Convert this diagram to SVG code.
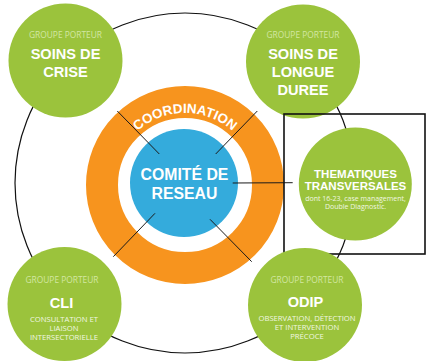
<svg xmlns="http://www.w3.org/2000/svg" width="426" height="361" viewBox="0 0 426 361">
<style>
.green{fill:#9bc33c;}
.gp{font-family:"Open Sans","Liberation Sans",sans-serif;font-size:8.4px;fill:#d3e7a3;text-anchor:middle;}
.title{font-family:"Liberation Sans",Arial,sans-serif;font-weight:bold;font-size:14.6px;fill:#ffffff;text-anchor:middle;}
.sub{font-family:"Open Sans","Liberation Sans",sans-serif;font-size:7.7px;fill:#f1f7e2;text-anchor:middle;}
.conn{stroke:#1a1a1a;stroke-width:1;fill:none;}
</style>
<defs>
<path id="coordArc" d="M 113,185 A 72 72 0 0 1 257,185"/>
</defs>
<rect width="426" height="361" fill="#ffffff"/>
<g id="outer-ring">
<circle cx="185" cy="183" r="170" fill="none" stroke="#111" stroke-width="1.2"/>
</g>
<g id="node-coordination">
<circle cx="185" cy="185" r="83" fill="none" stroke="#f7941e" stroke-width="32"/>
<text font-family="Liberation Sans, Arial, sans-serif" font-weight="bold" font-size="13.4" fill="#ffffff"><textPath href="#coordArc" startOffset="50%" text-anchor="middle">COORDINATION</textPath></text>
</g>
<g id="node-comite">
<circle cx="184" cy="183" r="54" fill="#34abdc"/>
<text class="title" x="184.5" y="180" style="font-size:15.8px">COMITÉ DE</text>
<text class="title" x="184.5" y="199.3" style="font-size:15.8px">RESEAU</text>
</g>
<g id="connectors">
<line class="conn" x1="117.3" y1="111" x2="159.3" y2="154"/>
<line class="conn" x1="257.3" y1="111" x2="215.7" y2="154"/>
<line class="conn" x1="232.7" y1="183" x2="292.7" y2="182.7"/>
<line class="conn" x1="155" y1="213.3" x2="113.3" y2="256.7"/>
<line class="conn" x1="210" y1="219.3" x2="251.7" y2="261.7"/>
</g>
<g id="node-soins-crise">
<circle class="green" cx="65.5" cy="60.5" r="57"/>
<text class="gp" x="65.5" y="37.5">GROUPE PORTEUR</text>
<text class="title" x="65.5" y="59">SOINS DE</text>
<text class="title" x="65.5" y="77">CRISE</text>
</g>
<g id="node-soins-longue-duree">
<circle class="green" cx="303" cy="61.5" r="57"/>
<text class="gp" x="303" y="37.5">GROUPE PORTEUR</text>
<text class="title" x="303" y="59">SOINS DE</text>
<text class="title" x="303" y="77">LONGUE</text>
<text class="title" x="303" y="94.5">DUREE</text>
</g>
<g id="node-thematiques">
<circle class="green" cx="355.3" cy="184" r="56.5"/>
<text class="title" x="355.5" y="178.3" style="font-size:11.5px">THEMATIQUES</text>
<text class="title" x="355.5" y="190" style="font-size:11.5px">TRANSVERSALES</text>
<text class="sub" x="355.5" y="201" style="font-size:7px">dont 16-23, case management,</text>
<text class="sub" x="355.5" y="209" style="font-size:7px">Double Diagnostic.</text>
<rect x="284" y="114" width="141" height="140" fill="none" stroke="#111" stroke-width="1.6"/>
</g>
<g id="node-cli">
<circle class="green" cx="64.5" cy="304" r="57"/>
<text class="gp" x="62" y="283.3">GROUPE PORTEUR</text>
<text class="title" x="61.5" y="308.3">CLI</text>
<text class="sub" x="64" y="321.7">CONSULTATION ET</text>
<text class="sub" x="64" y="330.7">LIAISON</text>
<text class="sub" x="64" y="340">INTERSECTORIELLE</text>
</g>
<g id="node-odip">
<circle class="green" cx="305" cy="305" r="57"/>
<text class="gp" x="307" y="283.3">GROUPE PORTEUR</text>
<text class="title" x="305.5" y="306.7">ODIP</text>
<text class="sub" x="307" y="321">OBSERVATION, DÉTECTION</text>
<text class="sub" x="307" y="330">ET INTERVENTION</text>
<text class="sub" x="307" y="339.3">PRÉCOCE</text>
</g>
</svg>
